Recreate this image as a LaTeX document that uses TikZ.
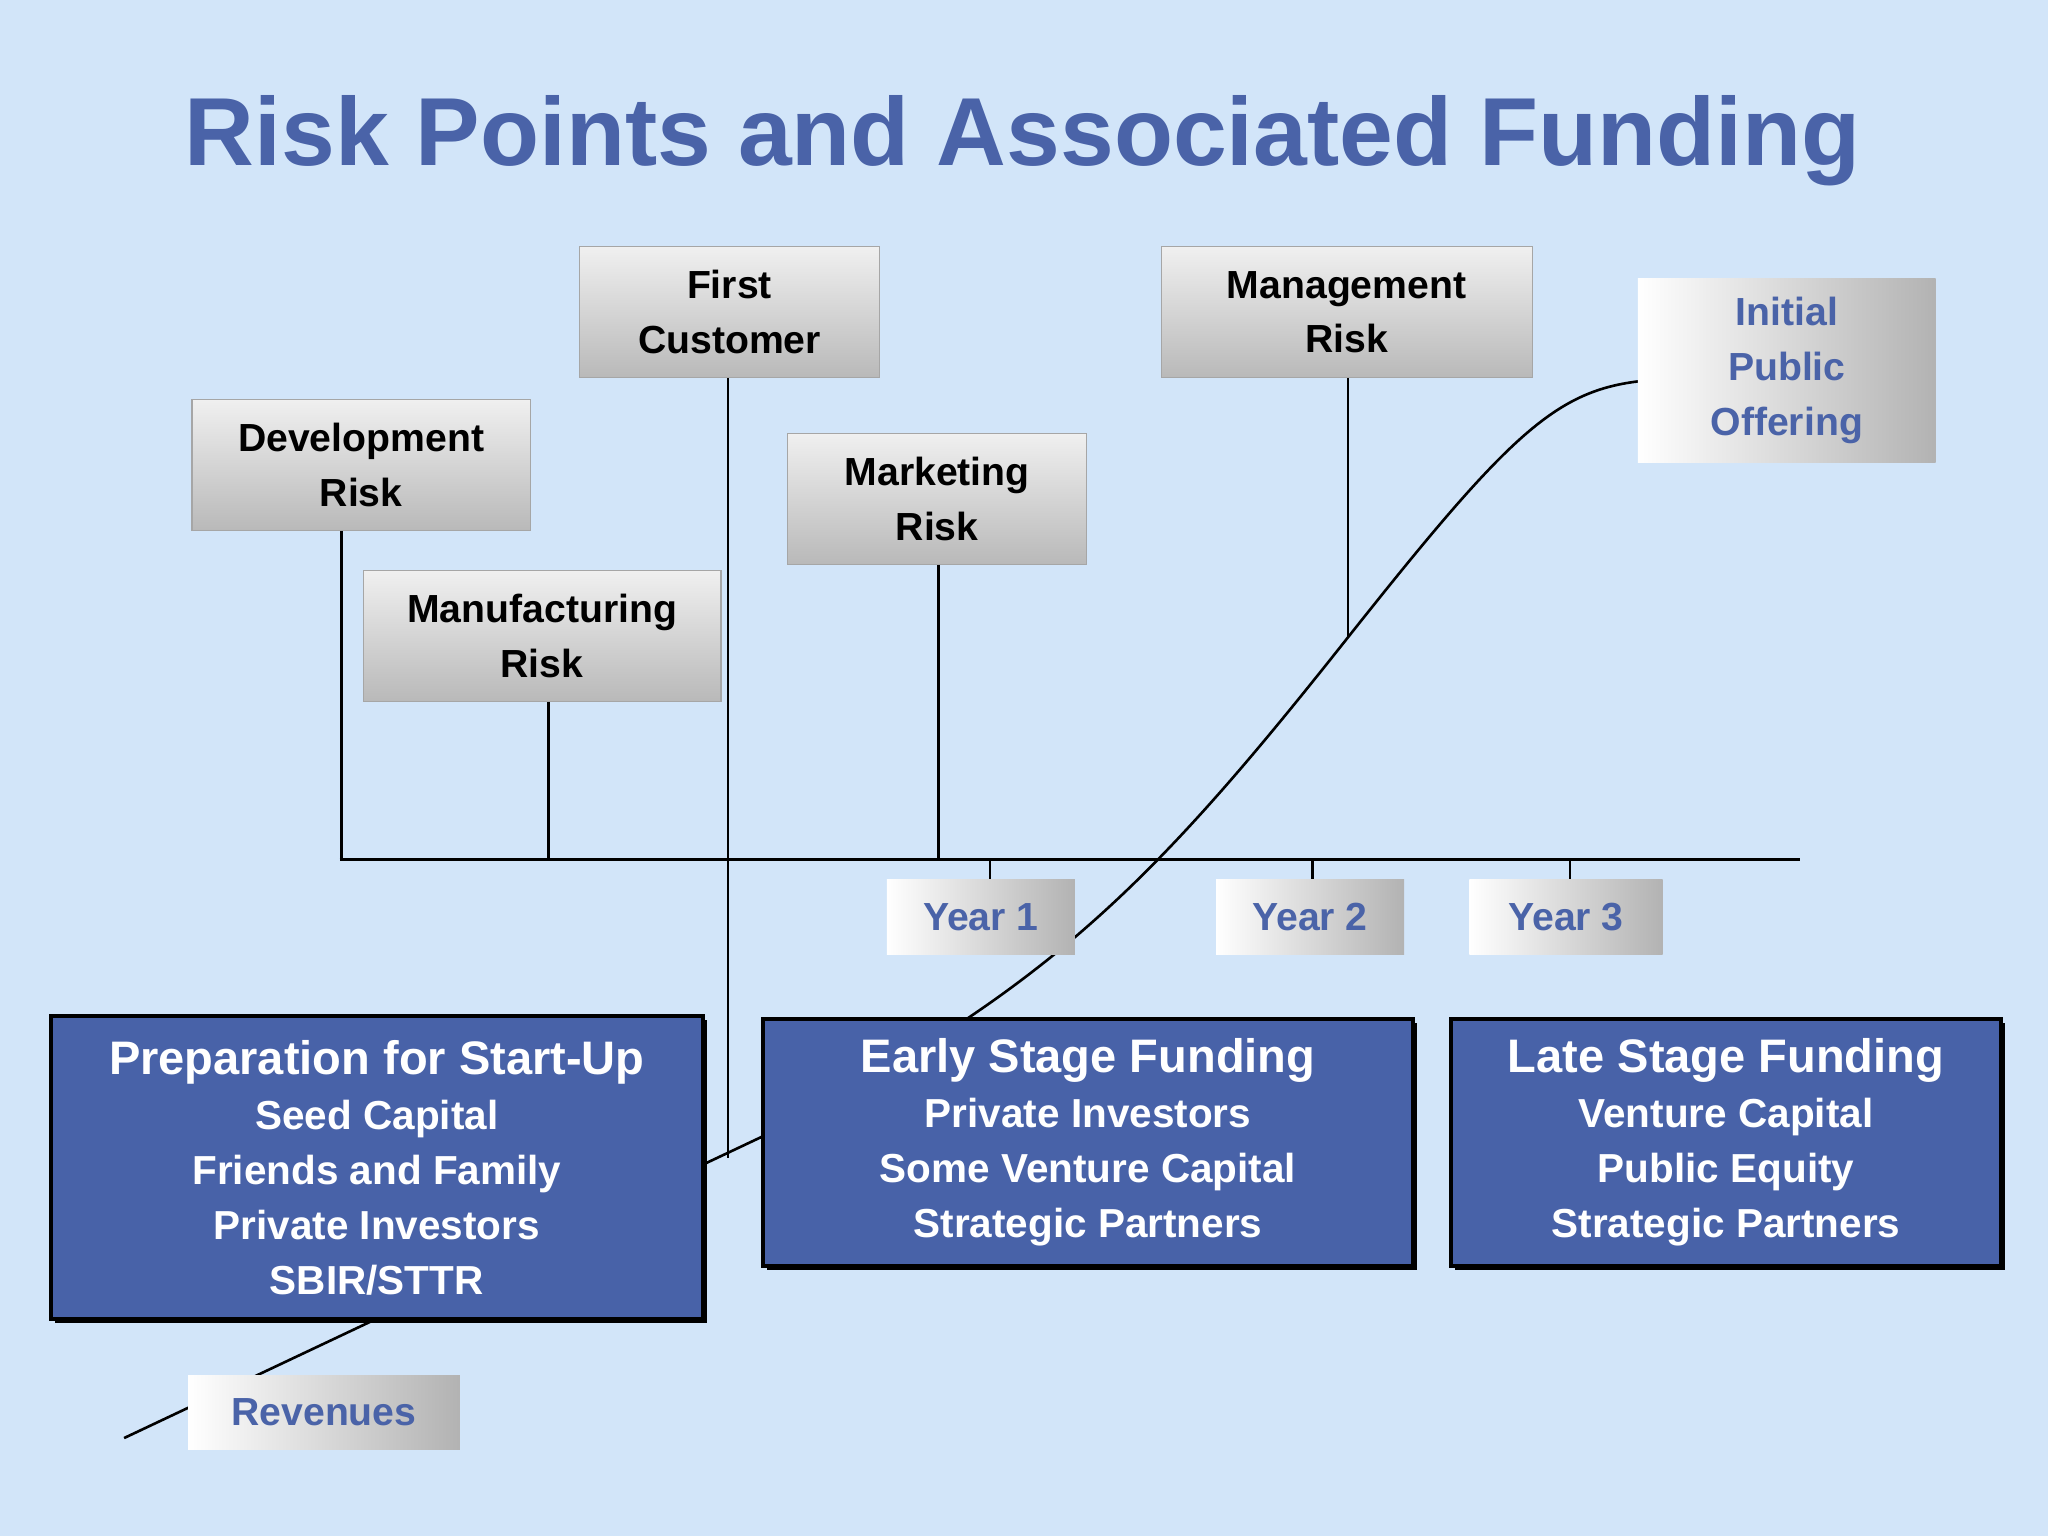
\documentclass[tikz,border=0pt]{standalone}
\usepackage{fontspec}
\setmainfont{Liberation Sans}
\usetikzlibrary{shadows}
\definecolor{bg}{HTML}{D2E5F9}
\definecolor{ttl}{HTML}{4A63A8}
\definecolor{bbox}{HTML}{4862A8}
\tikzset{
 risk/.style={top color=gray!12,bottom color=gray!55,draw=gray!70,line width=0.8pt,
   font=\bfseries\fontsize{30}{42}\selectfont,align=center,inner sep=0pt},
 hbox/.style={left color=white,right color=gray!60,draw=none,font=\bfseries\fontsize{30}{42}\selectfont,text=ttl,align=center,inner sep=0pt},
 fund/.style={fill=bbox,draw=black,line width=3pt,text=white,align=center,inner sep=0pt,
   font=\bfseries\fontsize{31}{42}\selectfont},
 fshadow/.style={fill=black,draw=none},
 ln/.style={line width=2pt,black}
}
\begin{document}
\begin{tikzpicture}[x=1pt,y=-1pt]
\fill[bg] (0,0) rectangle (1568,1176);
\useasboundingbox (0,0) rectangle (1568,1176);
\node[text=ttl,font=\bfseries\fontsize{74}{80}\selectfont] (title) at (783,108) {Risk Points and Associated Funding};
% curve behind boxes
\coordinate (rs) at (95,1101);
\coordinate (ipoin) at (1254,292);
\draw[ln] (rs) -- (584,870) .. controls (800,760) and (880,680) .. (1032,488) .. controls (1154,334) and (1190,300) .. (ipoin);
% risk boxes
\node[risk,minimum width=259pt,minimum height=100pt] (dev) at (276.5,356) {Development\\Risk};
\node[risk,minimum width=274pt,minimum height=100pt] (man) at (415,487) {Manufacturing\\Risk};
\node[risk,minimum width=229pt,minimum height=100pt] (fc) at (558.5,239) {First\\Customer};
\node[risk,minimum width=229pt,minimum height=100pt] (mk) at (717.5,382) {Marketing\\Risk};
\node[risk,minimum width=284pt,minimum height=100pt] (mg) at (1031,239) {Management\\Risk};
\node[hbox,minimum width=228pt,minimum height=141pt] (ipo) at (1368,283.5) {Initial\\Public\\Offering};
% axis
\coordinate (a0) at (260,658);
\coordinate (a1) at (1378,658);
\draw[ln] (a0) -- (a1);
\draw[ln] ([xshift=-15pt]dev.south) -- ([xshift=-15pt]dev.south |- a0);
\draw[ln] ([xshift=5pt]man.south) -- ([xshift=5pt]man.south |- a0);
\draw[ln] ([xshift=-1pt]fc.south) -- ++(0,597);
\draw[ln] ([xshift=1pt]mk.south) -- ([xshift=1pt]mk.south |- a0);
\draw[ln] ([xshift=1pt]mg.south) -- ++(0,199);
% years
\node[hbox,minimum width=144pt,minimum height=58pt] (y1) at (751,702) {Year 1};
\node[hbox,minimum width=144pt,minimum height=58pt] (y2) at (1003,702) {Year 2};
\node[hbox,minimum width=148pt,minimum height=58pt] (y3) at (1199,702) {Year 3};
\draw[ln] ([xshift=7pt]y1.north) -- ([xshift=7pt]y1.north |- a0);
\draw[ln] ([xshift=2pt]y2.north) -- ([xshift=2pt]y2.north |- a0);
\draw[ln] ([xshift=3pt]y3.north) -- ([xshift=3pt]y3.north |- a0);
% funding shadows
\fill[black] (42,781) rectangle (541,1013);
\fill[black] (587,783) rectangle (1085,972);
\fill[black] (1114,783) rectangle (1535,972);
% funding
\node[fund,minimum width=499pt,minimum height=232pt] (prep) at (288.5,894) {\fontsize{36}{44}\selectfont Preparation for Start-Up\\
Seed Capital\\Friends and Family\\Private Investors\\SBIR/STTR};
\node[fund,minimum width=498pt,minimum height=189pt] (early) at (833,874.5) {\fontsize{36}{44}\selectfont Early Stage Funding\\
Private Investors\\Some Venture Capital\\Strategic Partners};
\node[fund,minimum width=421pt,minimum height=189pt] (late) at (1321.5,874.5) {\fontsize{36}{44}\selectfont Late Stage Funding\\
Venture Capital\\Public Equity\\Strategic Partners};
\node[hbox,minimum width=208pt,minimum height=57pt] (rev) at (248,1081.5) {Revenues};
\end{tikzpicture}
\end{document}
